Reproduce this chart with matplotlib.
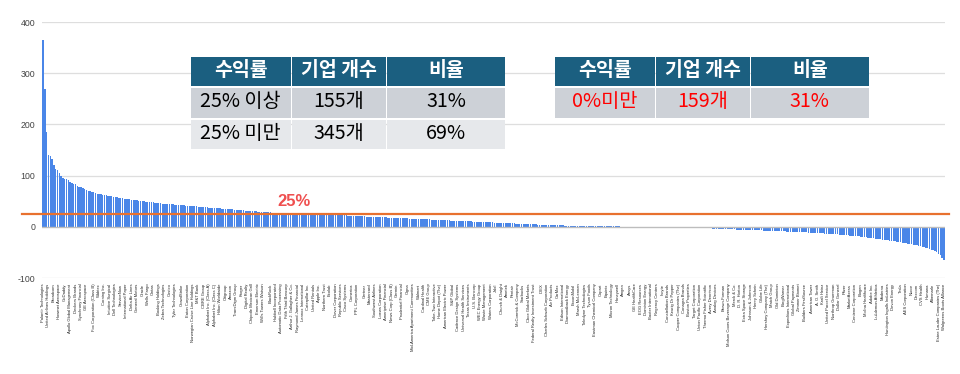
import numpy as np
import matplotlib
matplotlib.use("Agg")
import matplotlib.pyplot as plt
from matplotlib.patches import Rectangle

plt.rcParams['font.family'] = ['Liberation Sans', 'DejaVu Sans']

# ---------------- data ----------------
returns = [
    365, 270, 185, 140, 139, 132, 121, 112, 110, 106, 100, 96, 94, 93, 92, 88, 85, 84, 84, 80,
    78, 77, 75, 73, 72, 70, 69, 68, 67, 66, 65, 65, 64, 63, 62, 62, 61, 60, 60, 59,
    58, 58, 57, 57, 56, 55, 55, 54, 54, 53, 53, 52, 52, 51, 51, 50, 50, 49, 49, 48.5,
    48, 47.5, 47, 47, 46.5, 46, 45.5, 45.5, 45, 45, 44.5, 44, 44, 43.5, 43, 43, 42.5, 42, 42, 41.5,
    41, 41, 40.5, 40.5, 40, 40, 39.5, 39.5, 39, 38.5, 38.5, 38, 37.5, 37.5, 37, 37, 36.5, 36, 36, 35.5,
    35.5, 35, 35, 34.5, 34.5, 34, 33.5, 33.5, 33, 32.5, 32.5, 32, 31.5, 31.5, 31, 31, 30.5, 30, 30, 29.5,
    29.5, 29, 29, 28.8, 28.5, 28.3, 28, 27.8, 27.5, 27.3, 27, 26.8, 26.6, 26.4, 26.3, 26.1, 26, 25.9, 25.8, 25.7,
    25.6, 25.5, 25.5, 25.4, 25.4, 25.3, 25.3, 25.2, 25.2, 25.1, 25.1, 25.1, 25.0, 25.0, 25.0,
    24.8, 24.6, 24.4, 24.2, 24.0, 23.8, 23.6, 23.4, 23.2, 23.0, 22.8, 22.6, 22.4, 22.2, 22.0, 21.8, 21.6, 21.4, 21.2, 21.0,
    20.8, 20.6, 20.5, 20.3, 20.1, 20.0, 19.8, 19.6, 19.5, 19.3, 19.1, 19.0, 18.8, 18.6, 18.5, 18.3, 18.1, 18.0, 17.8, 17.6,
    17.5, 17.3, 17.1, 17.0, 16.8, 16.6, 16.5, 16.3, 16.1, 16.0, 15.8, 15.6, 15.5, 15.3, 15.1, 15.0, 14.8, 14.6, 14.5, 14.3,
    14.1, 14.0, 13.8, 13.6, 13.5, 13.3, 13.1, 13.0, 12.8, 12.6, 12.5, 12.3, 12.1, 12.0, 11.8, 11.6, 11.5, 11.3, 11.1, 11.0,
    10.8, 10.6, 10.5, 10.3, 10.1, 10.0, 9.8, 9.6, 9.5, 9.3, 9.1, 9.0, 8.8, 8.6, 8.5, 8.3, 8.1, 8.0, 7.8, 7.6,
    7.5, 7.3, 7.1, 7.0, 6.8, 6.6, 6.5, 6.3, 6.1, 6.0, 5.8, 5.6, 5.5, 5.3, 5.1, 5.0, 4.8, 4.6, 4.5, 4.3,
    4.2, 4.0, 3.9, 3.8, 3.6, 3.5, 3.4, 3.3, 3.2, 3.0, 2.9, 2.8, 2.7, 2.6, 2.5, 2.4, 2.3, 2.2, 2.1, 2.0,
    1.9, 1.8, 1.8, 1.7, 1.6, 1.5, 1.5, 1.4, 1.3, 1.3, 1.2, 1.1, 1.1, 1.0, 1.0, 0.9, 0.9, 0.8, 0.8, 0.7,
    0.7, 0.7, 0.6, 0.6, 0.6, 0.5, 0.5, 0.5, 0.4, 0.4, 0.4, 0.3, 0.3, 0.3, 0.3, 0.2, 0.2, 0.2, 0.2, 0.2,
    0.1, 0.1, 0.1, 0.1, 0.1, 0.05,
    -0.1, -0.2, -0.3, -0.4, -0.5, -0.6, -0.7, -0.8, -0.9, -1.0, -1.1, -1.2, -1.3, -1.4, -1.5, -1.6, -1.7, -1.8, -1.9, -2.0,
    -2.1, -2.2, -2.4, -2.5, -2.6, -2.8, -2.9, -3.0, -3.2, -3.3, -3.5, -3.6, -3.8, -3.9, -4.1, -4.2, -4.4, -4.5, -4.7, -4.8,
    -4.9, -5.0, -5.1, -5.3, -5.4, -5.5, -5.6, -5.8, -5.9, -6.0, -6.2, -6.3, -6.5, -6.6, -6.8, -6.9, -7.0, -7.2, -7.3, -7.5,
    -7.6, -7.8, -7.9, -8.0, -8.2, -8.3, -8.5, -8.6, -8.8, -8.9, -9.1, -9.2, -9.4, -9.5, -9.7, -9.8, -10.0, -10.1, -10.3, -10.5,
    -10.7, -10.9, -11.1, -11.3, -11.5, -11.7, -11.9, -12.1, -12.3, -12.5, -12.7, -12.9, -13.1, -13.3, -13.5, -13.8, -14.0, -14.3, -14.6, -14.9,
    -15.2, -15.5, -15.8, -16.1, -16.4, -16.7, -17.0, -17.3, -17.6, -18.0, -18.4, -18.8, -19.2, -19.6, -20.0, -20.5, -21.0, -21.5, -22.0, -22.5,
    -23.0, -23.5, -24.0, -24.5, -25.0, -25.5, -26.0, -26.5, -27.0, -27.5, -28.0, -28.5, -29.0, -29.6, -30.2, -30.8, -31.4, -32.0, -32.7, -33.4,
    -34.0, -34.8, -35.5, -36.3, -37.0, -38.0, -39.0, -40.0, -41.0, -42.0, -43.0, -44.5, -46.0, -48.0, -50.0, -53.0, -56.0, -60.0, -65.0,
]

tick_labels = [
    "Palantir Technologies", "United Airlines Holdings", "Broadcom", "Howmet Aerospace", "GoDaddy",
    "Apollo Global Management", "Deckers Brands", "Synchrony Financial", "GE Aerospace", "Fox Corporation (Class B)",
    "Wabtec", "Corning Inc.", "Intuitive Surgical", "Dell Technologies", "ServiceNow",
    "International Paper", "Delta Air Lines", "General Motors", "Oracle", "Wells Fargo",
    "Cintas", "Booking Holdings", "Zebra Technologies", "Costco", "Tyler Technologies",
    "CrowdStrike", "Eaton Corporation", "Norwegian Cruise Line Holdings", "M&T Bank", "CBRE Group",
    "Alphabet Inc. (Class A)", "Alphabet Inc. (Class C)", "Hilton Worldwide", "Citigroup", "Amazon",
    "TransDigm Group", "Kroger", "Digital Realty", "Chipotle Mexican Grill", "Emerson Electric",
    "Willis Towers Watson", "BlackRock", "Hubbell Incorporated", "Automatic Data Processing", "Fifth Third Bancorp",
    "Arthur J. Gallagher & Co.", "Raymond James Financial", "Lennox International", "Caterpillar Inc.", "United Rentals",
    "Apple Inc.", "Northern Trust", "Ecolab", "Dover Corporation", "Republic Services",
    "Cisco Systems", "Comerica", "PPL Corporation", "Gartner", "Mastercard",
    "Southwest Airlines", "Loews Corporation", "Ameriprise Financial", "News Corp (Class B)", "Garmin",
    "Prudential Financial", "Cigna", "Mid-America Apartment Communities", "Walmart", "Cardinal Health",
    "CME Group", "Take-Two Interactive", "Home Depot (The)", "American Electric Power", "S&P Global",
    "Cadence Design Systems", "Universal Health Services", "Texas Instruments", "U.S. Bancorp", "WEC Energy Group",
    "Waste Management", "Waters Corporation", "Jabil", "Church & Dwight", "Ametek",
    "Pentair", "McCormick & Company", "Starbucks", "Cboe Global Markets", "Federal Realty Investment Trust",
    "IDEX", "Charles Schwab Corporation", "Air Products", "CarMax", "Edison International",
    "Diamondback Energy", "ExxonMobil", "Marsh McLennan", "Teledyne Technologies", "Tyson Foods",
    "Eastman Chemical Company", "Copart", "Equinix", "Micron Technology", "Honeywell",
    "Amgen", "Ansys", "GE HealthCare", "EOG Resources", "Dominion Energy",
    "Baxter International", "Regency Centers", "Incyte", "Constellation Brands", "Keurig Dr Pepper",
    "Cooper Companies (The)", "Conagra Brands", "Boston Properties", "Target Corporation", "Union Pacific Corporation",
    "Thermo Fisher Scientific", "Avery Dennison", "Analog Devices", "Brown-Forman", "Molson Coors Beverage Company",
    "Merck & Co.", "D. R. Horton", "Extra Space Storage", "Johnson & Johnson", "Henry Schein",
    "Globe Life", "Hershey Company (The)", "Match Group", "Old Dominion", "BorgWarner",
    "Expeditors International", "Global Payments", "Zimmer Biomet", "Builders FirstSource", "American Tower",
    "A. O. Smith", "Kraft Heinz", "United Parcel Service", "Northrop Grumman", "Dollar General",
    "Pfizer", "MarketAxess", "Centene Corporation", "Biogen", "Molina Healthcare",
    "Adobe Inc.", "Lululemon Athletica", "Moderna", "Huntington Ingalls Industries", "Devon Energy",
    "Tesla", "AES Corporation", "Nucor", "Dexcom", "CVS Health",
    "Humana", "Albemarle", "Estee Lauder Companies (The)", "Walgreens Boots Alliance",
]

y_ticks = [-100, 0, 100, 200, 300, 400]
threshold = 25
threshold_label = "25%"

table1_header = ["수익률", "기업 개수", "비율"]
table1_rows = [["25% 이상", "155개", "31%"],
               ["25% 미만", "345개", "69%"]]
table2_header = ["수익률", "기업 개수", "비율"]
table2_rows = [["0%미만", "159개", "31%"]]

# ---------------- figure ----------------
W, H = 960, 374
fig = plt.figure(figsize=(W / 100, H / 100), dpi=100)
ax = fig.add_axes([42 / W, 1 - 278 / H, 903 / W, 256 / H])

x = np.arange(len(returns))
ax.bar(x, returns, width=0.78, color="#4A86E8", linewidth=0, zorder=2)
ax.set_xlim(-0.6, len(returns) - 0.4)
ax.set_ylim(-100, 400)

ax.set_yticks(y_ticks)
ax.set_yticklabels([str(v) for v in y_ticks])
ax.tick_params(axis='y', length=0, pad=5, labelsize=6.3, labelcolor="#444444")
for v in y_ticks:
    if v != 0:
        ax.axhline(v, color="#DEDEDE", lw=0.9, zorder=1)
ax.axhline(0, color="#BDBDBD", lw=1.0, zorder=3)

pos = np.round(np.linspace(0, len(returns) - 1, len(tick_labels))).astype(int)
ax.set_xticks(pos)
ax.set_xticklabels(tick_labels, rotation=90, fontsize=3.0, color="#222222", va="top", ha="center")
ax.tick_params(axis='x', length=0, pad=4)

for s in ax.spines.values():
    s.set_visible(False)

ax.axhline(threshold, xmin=-0.022, xmax=1.004, color="#E8712F", lw=1.6, zorder=4, clip_on=False)
ax.text(139, threshold + 9, threshold_label, color="#EF4F4F", fontsize=12, fontweight="bold",
        ha="center", va="bottom", zorder=5)

# ---------------- tables ----------------
kfont = ['Noto Sans CJK KR', 'DejaVu Sans']


def px_rect(x0, y0, x1, y1, color):
    fig.add_artist(Rectangle((x0 / W, 1 - y1 / H), (x1 - x0) / W, (y1 - y0) / H,
                             facecolor=color, edgecolor="none", transform=fig.transFigure, zorder=10))


def px_text(xc, yc, s, **kw):
    fig.text(xc / W, 1 - yc / H, s, ha="center", va="center", family=kfont, zorder=11, **kw)


def draw_table(col_edges, row_edges, header, rows, row_colors, text_color):
    for j in range(len(header)):
        x0, x1 = col_edges[j]
        y0, y1 = row_edges[0]
        px_rect(x0, y0, x1, y1, "#1B5F80")
        px_text((x0 + x1) / 2, (y0 + y1) / 2 - 1, header[j], color="white", fontsize=14, fontweight="bold")
    for i, row in enumerate(rows):
        y0, y1 = row_edges[i + 1]
        for j, val in enumerate(row):
            x0, x1 = col_edges[j]
            px_rect(x0, y0, x1, y1, row_colors[i])
            px_text((x0 + x1) / 2, (y0 + y1) / 2 - 1, val, color=text_color, fontsize=14.2)


draw_table([(191, 290.5), (291.8, 386), (387, 505)],
           [(57, 86), (87.5, 118), (119.5, 149)],
           table1_header, table1_rows, ["#CDD1D7", "#E6E8EB"], "black")
draw_table([(555, 654.5), (655.5, 749.5), (750.5, 869)],
           [(56.5, 86), (87.5, 118)],
           table2_header, table2_rows, ["#CDD1D7"], "#FF0000")

fig.savefig("out.png", dpi=100, facecolor="white")
